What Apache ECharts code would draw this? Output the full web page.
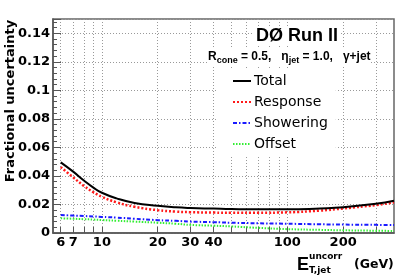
<!DOCTYPE html>
<html>
<head>
<meta charset="utf-8">
<script src="https://cdn.jsdelivr.net/npm/echarts@6/dist/echarts.min.js"></script>
<style>html,body{margin:0;padding:0;background:#fff}#c{width:415px;height:277px}</style>
</head>
<body>
<div id="c"></div>
<script>
// Data
const etValues   = [6, 7, 8, 9, 10, 12, 15, 20, 25, 30, 40, 50, 70, 100, 150, 200, 300, 376];
const total      = [0.0495, 0.0430, 0.0368, 0.0318, 0.0282, 0.0243, 0.0211, 0.0191, 0.0180, 0.0175, 0.0171, 0.0168, 0.0166, 0.0166, 0.0172, 0.0180, 0.0205, 0.0226];
const response   = [0.0462, 0.0390, 0.0330, 0.0286, 0.0254, 0.0215, 0.0184, 0.0160, 0.0150, 0.0146, 0.0143, 0.0142, 0.0142, 0.0145, 0.0157, 0.0172, 0.0196, 0.0215];
const showering  = [0.0126, 0.0122, 0.0119, 0.0116, 0.0113, 0.0108, 0.0100, 0.0090, 0.0085, 0.0080, 0.0076, 0.0072, 0.0068, 0.0065, 0.0061, 0.0059, 0.0057, 0.0056];
const offset     = [0.0103, 0.0100, 0.0097, 0.0094, 0.0091, 0.0086, 0.0080, 0.0072, 0.0065, 0.0057, 0.0051, 0.0046, 0.0036, 0.0027, 0.0022, 0.0019, 0.0016, 0.0014];
const xTickValues  = [6, 7, 8, 9, 10, 20, 30, 40, 50, 60, 70, 80, 90, 100, 200, 300];
const xLabelValues = [6, 7, 10, 20, 30, 40, 100, 200];
const seriesNames  = ['Total', 'Response', 'Showering', 'Offset'];

const pair = arr => etValues.map((x, i) => [x, arr[i]]);
const tickFont = { fontFamily: 'DejaVu Sans', fontWeight: 'bold', fontSize: 13, color: '#000' };

const chart = echarts.init(document.getElementById('c'), null, { renderer: 'canvas' });
chart.setOption({
  animation: false,
  backgroundColor: '#fff',
  grid: { left: 53, right: 21, top: 19, bottom: 44, show: true, borderColor: '#666', borderWidth: 1.5, backgroundColor: 'transparent' },
  xAxis: {
    type: 'log', logBase: 10, min: 5.45, max: 376,
    axisLine: { show: true, onZero: false, lineStyle: { color: '#555', width: 1.5 } },
    axisTick: { show: true, inside: true, length: 6, customValues: xTickValues, lineStyle: { color: '#555' } },
    axisLabel: { customValues: xLabelValues, margin: 3, ...tickFont },
    splitLine: { show: true, lineStyle: { color: '#999', type: [1, 2], width: 1 } },
    minorTick: { show: false }, minorSplitLine: { show: false }
  },
  yAxis: {
    type: 'value', min: 0, max: 0.15, interval: 0.02,
    axisLine: { show: true, lineStyle: { color: '#555', width: 1.5 } },
    axisTick: { show: true, inside: true, length: 8, lineStyle: { color: '#555' } },
    minorTick: { show: true, splitNumber: 5, length: 4, lineStyle: { color: '#555' } },
    axisLabel: { margin: 3, showMaxLabel: false, formatter: v => String(parseFloat(v.toFixed(3))), ...tickFont },
    splitLine: { show: true, lineStyle: { color: '#999', type: [1, 2], width: 1 } }
  },
  legend: {
    orient: 'vertical', left: 218, top: 69, padding: [5, 8, 5, 14],
    backgroundColor: '#fff', itemWidth: 18, itemHeight: 14, itemGap: 7,
    itemStyle: { opacity: 0 },
    textStyle: { fontFamily: 'DejaVu Sans', fontSize: 14, color: '#000', padding: [0, 0, 0, -2] },
    data: seriesNames
  },
  series: [
    { name: 'Total', type: 'line', data: pair(total), showSymbol: false, symbol: 'none', smooth: 0.5, lineStyle: { color: '#000', width: 2 }, itemStyle: { color: '#000' }, z: 5 },
    { name: 'Response', type: 'line', data: pair(response), showSymbol: false, symbol: 'none', smooth: 0.5, lineStyle: { color: '#ff1a1a', width: 2.5, type: [2, 2] }, itemStyle: { color: '#ff1a1a' }, z: 4 },
    { name: 'Showering', type: 'line', data: pair(showering), showSymbol: false, symbol: 'none', smooth: 0.5, lineStyle: { color: '#1a1aff', width: 2, type: [4, 2, 1.5, 2] }, itemStyle: { color: '#1a1aff' }, z: 3 },
    { name: 'Offset', type: 'line', data: pair(offset), showSymbol: false, symbol: 'none', smooth: 0.5, lineStyle: { color: '#33ee33', width: 2, type: [1.5, 1.5] }, itemStyle: { color: '#33ee33' }, z: 3 }
  ],
  graphic: [
    { type: 'text', x: 11, y: 101, rotation: Math.PI / 2, style: { text: 'Fractional uncertainty', fontFamily: 'DejaVu Sans', fontWeight: 'bold', fontSize: 13, fill: '#000', align: 'center', verticalAlign: 'middle' } },
    { type: 'text', x: 297, y: 36, z: 10, style: { text: 'DØ Run II', fontFamily: 'Liberation Sans', fontWeight: 'bold', fontSize: 18, fill: '#000', align: 'center', verticalAlign: 'middle', backgroundColor: '#fff', padding: [1, 2] } },
    { type: 'text', x: 208, y: 57, z: 10, style: {
        text: '{m|R}{s|cone}{m| = 0.5,   η}{s|jet}{m| = 1.0,   γ+jet}',
        fontFamily: 'Liberation Sans', fontWeight: 'bold', fill: '#000', align: 'left', verticalAlign: 'middle', backgroundColor: '#fff',
        rich: {
          m: { fontFamily: 'Liberation Sans', fontWeight: 'bold', fontSize: 12, fill: '#000', verticalAlign: 'middle' },
          s: { fontFamily: 'Liberation Sans', fontWeight: 'bold', fontSize: 9, fill: '#000', verticalAlign: 'bottom', padding: [7, 0, 0, 0] }
        } } },
    { type: 'text', x: 297, y: 265, style: { text: 'E', fontFamily: 'Liberation Sans', fontWeight: 'bold', fontSize: 18, fill: '#000', align: 'left', verticalAlign: 'middle' } },
    { type: 'text', x: 309, y: 257, style: { text: 'uncorr', fontFamily: 'DejaVu Sans', fontWeight: 'bold', fontSize: 9, fill: '#000', align: 'left', verticalAlign: 'middle' } },
    { type: 'text', x: 309, y: 271, style: { text: 'T,jet', fontFamily: 'DejaVu Sans', fontWeight: 'bold', fontSize: 9, fill: '#000', align: 'left', verticalAlign: 'middle' } },
    { type: 'text', x: 354, y: 265, style: { text: '(GeV)', fontFamily: 'DejaVu Sans', fontWeight: 'bold', fontSize: 12.5, fill: '#000', align: 'left', verticalAlign: 'middle' } }
  ]
});
</script>
</body>
</html>
